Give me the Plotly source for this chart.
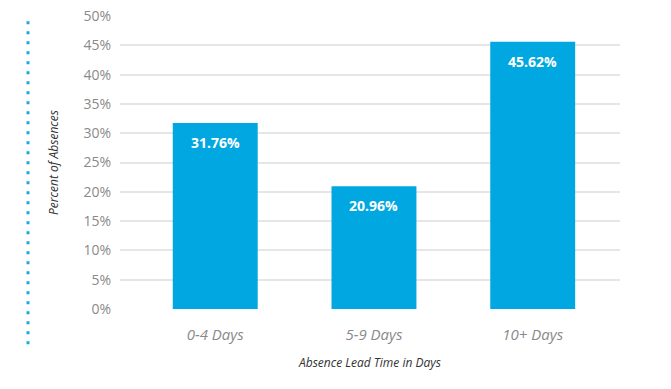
import plotly.graph_objects as go

categories = ["0-4 Days", "5-9 Days", "10+ Days"]
values = [31.76, 20.96, 45.62]
y_ticks = [0, 5, 10, 15, 20, 25, 30, 35, 40, 45, 50]
y_tick_labels = [f"{t}%" for t in y_ticks]

BAR = "#00a7e0"
FONT = "Open Sans"

fig = go.Figure()
fig.add_trace(go.Bar(
    x=categories, y=values, marker_color=BAR, width=0.535,
    marker_line_width=0, hoverinfo="skip",
))

for c, v in zip(categories, values):
    fig.add_annotation(
        x=c, y=v, xref="x", yref="y", text=f"<b>{v:.2f}%</b>",
        showarrow=False, yanchor="top", yshift=-8,
        font=dict(family=FONT, size=14, color="white"),
    )

# decorative dotted line at left
fig.add_shape(type="line", xref="paper", yref="paper",
              x0=-0.184, x1=-0.184, y0=-0.12, y1=1.0,
              line=dict(color="#1aa9e1", width=3, dash="3px,7px"))

fig.update_layout(
    width=671, height=389,
    margin=dict(l=120, r=51, t=16, b=80),
    plot_bgcolor="white", paper_bgcolor="white",
    showlegend=False,
    font=dict(family=FONT),
    xaxis=dict(
        range=[-0.6, 2.55], showgrid=False, zeroline=False,
        ticks="outside", ticklen=12, tickcolor="rgba(0,0,0,0)",
        tickfont=dict(family=FONT, size=15, color="#8a8a8a", style="italic"),
        title=dict(text="<i>Absence Lead Time in Days</i>",
                   font=dict(family=FONT, size=12, color="#333333"), standoff=15),
        automargin=False,
    ),
    yaxis=dict(
        range=[0, 50], tickmode="array", tickvals=y_ticks, ticktext=y_tick_labels,
        showgrid=True, gridcolor="#e6e6e6", gridwidth=1.5,
        zeroline=False, showline=False,
        ticks="outside", ticklen=5, tickcolor="rgba(0,0,0,0)",
        tickfont=dict(family=FONT, size=14, color="#8a8a8a"),
        title=dict(text="<i>Percent of Absences</i>",
                   font=dict(family=FONT, size=12, color="#333333"), standoff=22),
        automargin=False,
    ),
)

fig.write_html("out.html", config={"displayModeBar": False},
               post_script="document.body.style.margin='0';")
